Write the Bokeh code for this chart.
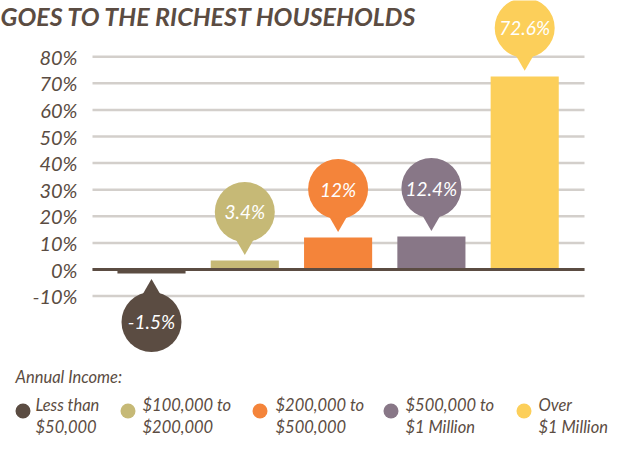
from bokeh.plotting import figure
from bokeh.models import Range1d
from bokeh.layouts import column
from bokeh.embed import file_html
from bokeh.resources import INLINE
from bokeh.core.properties import value

# ---- data ----
title_text = "GOES TO THE RICHEST HOUSEHOLDS"
categories = ["Less than\n$50,000", "$100,000 to\n$200,000", "$200,000 to\n$500,000",
              "$500,000 to\n$1 Million", "Over\n$1 Million"]
shares = [-1.5, 3.4, 12.0, 12.4, 72.6]
colors = ["#5b4c42", "#c6b976", "#f4843a", "#887787", "#fccf5a"]
tick_values = [-10, 0, 10, 20, 30, 40, 50, 60, 70, 80]
tick_labels = ["-10%", "0%", "10%", "20%", "30%", "40%", "50%", "60%", "70%", "80%"]
legend_title = "Annual Income:"

# ---- style / layout ----
FONT = "Lato"
DARK = "#5b4c42"
GRID = "#d3cfcb"
W = 612
H_MAIN = 360
H_LEG = 75
ZERO_PX = 269.0      # pixel row of the 0% line
PPU = 2.66           # pixels per percentage point
FIRST_PX = 151.0     # pixel column of first bar centre
PPX = 93.3           # pixels between bar centres
GRID_L, GRID_R = 92, 584

Y1 = ZERO_PX / PPU
Y0 = Y1 - H_MAIN / PPU
X0 = -FIRST_PX / PPX
X1 = X0 + W / PPX


def xd(px):
    return X0 + px / PPX


def yd(py):
    return Y1 - py / PPU


p = figure(width=W, height=H_MAIN, x_range=Range1d(X0, X1), y_range=Range1d(Y0, Y1),
           output_backend="svg", toolbar_location=None, x_axis_location=None,
           y_axis_location=None, min_border=0, outline_line_color=None,
           background_fill_color="white", border_fill_color="white")
p.xgrid.visible = False
p.ygrid.visible = False

n_t = len(tick_values)
# horizontal grid lines
p.segment(x0=[xd(GRID_L)] * n_t, x1=[xd(GRID_R)] * n_t, y0=tick_values, y1=tick_values,
          line_color=GRID, line_width=2.5)
# y tick labels
p.text(x=[xd(77)] * n_t, y=tick_values, text=tick_labels, text_align="right",
       text_baseline="middle", text_font=value(FONT), text_font_style="italic",
       text_font_size="20px", text_color=DARK)

xs = list(range(len(shares)))
p.vbar(x=xs, top=shares, bottom=0, width=0.73, fill_color=colors, line_color=None)

# zero line
p.segment(x0=[xd(GRID_L)], x1=[xd(GRID_R)], y0=[0], y1=[0], line_color=DARK, line_width=3)

# bubbles (callouts)
sign = [1 if v >= 0 else -1 for v in shares]
circ_y = [v + s * 48.5 / PPU for v, s in zip(shares, sign)]
tri_y = [v + s * 19.4 / PPU for v, s in zip(shares, sign)]
tri_m = ["inverted_triangle" if s > 0 else "triangle" for s in sign]
labels = [("%g" % v) + "%" for v in shares]

p.scatter(x=xs, y=tri_y, marker=tri_m, size=24, fill_color=colors, line_color=None)
p.scatter(x=xs, y=circ_y, marker="circle", size=60, fill_color=colors, line_color=None)
p.text(x=xs, y=circ_y, text=labels, text_align="center", text_baseline="middle",
       text_font=value(FONT), text_font_style="italic", text_font_size="19px",
       text_color="white")

# title (at the top edge, as in the reference)
p.text(x=[xd(0)], y=[yd(15.5)], text=[title_text], text_align="left",
       text_baseline="middle", text_font=value(FONT), text_font_style="bold italic",
       text_font_size="25px", text_color=DARK)

# ---- legend ----
leg = figure(width=W, height=H_LEG, x_range=Range1d(0, W), y_range=Range1d(H_LEG, 0),
             output_backend="svg", toolbar_location=None, x_axis_location=None,
             y_axis_location=None, min_border=0, outline_line_color=None,
             background_fill_color="white", border_fill_color="white")
leg.xgrid.visible = False
leg.ygrid.visible = False

dot_x = [22.5, 127.5, 259.5, 390.5, 523.5]
txt_x = [35, 142, 275, 405, 538]
line1 = [c.split("\n")[0] for c in categories]
line2 = [c.split("\n")[1] for c in categories]

leg.text(x=[15], y=[16], text=[legend_title], text_font=value(FONT), text_font_style="italic",
         text_font_size="16.5px", text_color=DARK, text_baseline="middle")
leg.scatter(x=dot_x, y=[50.5] * len(dot_x), marker="circle", size=15,
            fill_color=colors, line_color=None)
leg.text(x=txt_x, y=[44] * len(txt_x), text=line1, text_font=value(FONT),
         text_font_style="italic", text_font_size="16.5px", text_color=DARK,
         text_baseline="middle")
leg.text(x=txt_x, y=[66] * len(txt_x), text=line2, text_font=value(FONT),
         text_font_style="italic", text_font_size="16.5px", text_color=DARK,
         text_baseline="middle")

layout = column(p, leg)
open("out.html", "w").write(file_html(layout, INLINE))
